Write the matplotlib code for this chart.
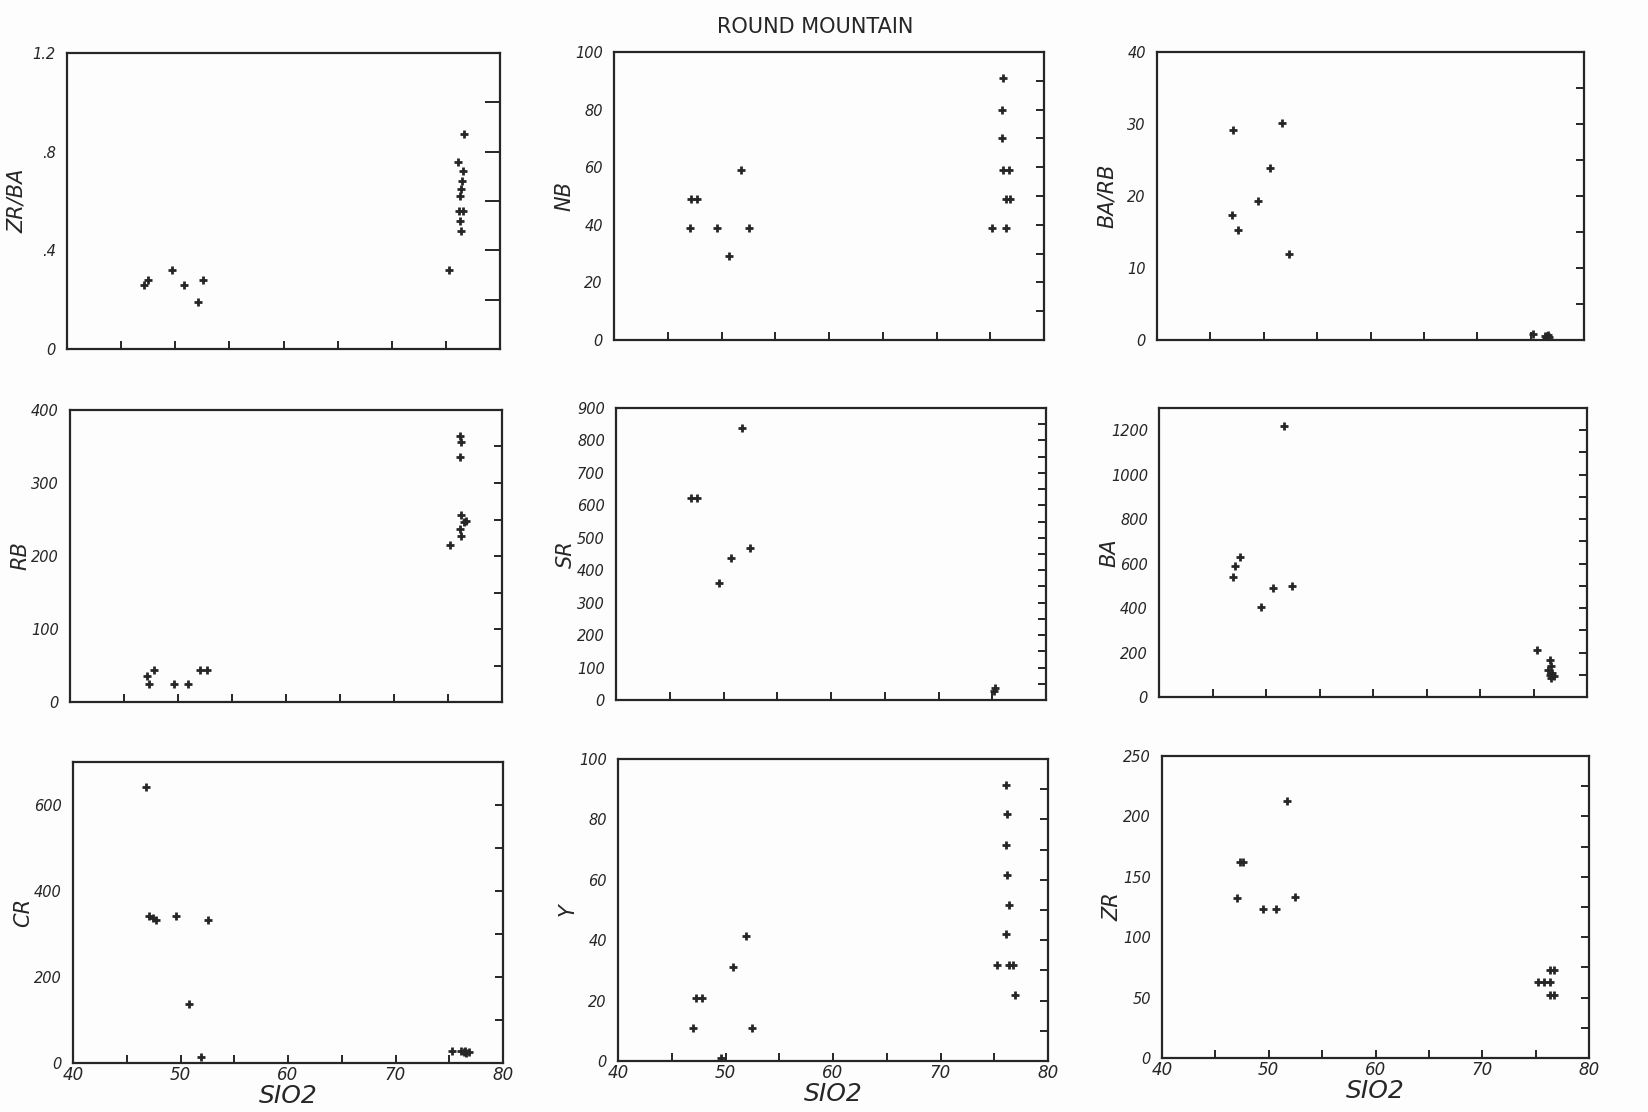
import matplotlib
matplotlib.use('Agg')
import matplotlib.pyplot as plt

# SIO2 vs. element values
zrba_x = [47.1, 47.5, 49.7, 50.8, 52.1, 52.6, 75.3, 76.7, 76.1, 76.6, 76.5, 76.4, 76.3, 76.2, 76.6, 76.3, 76.4]
zrba_y = [0.26, 0.28, 0.32, 0.26, 0.19, 0.28, 0.32, 0.87, 0.76, 0.72, 0.68, 0.65, 0.62, 0.56, 0.56, 0.52, 0.48]

nb_x = [47.1, 47.2, 47.7, 49.6, 50.7, 51.8, 52.6, 75.2, 76.5, 76.2, 76.1, 76.1, 76.2, 76.7, 76.5, 76.8]
nb_y = [39, 49, 49, 39, 29, 59, 39, 39, 39, 91, 80, 70, 59, 59, 49, 49]

barb_x = [47.1, 47.0, 47.6, 49.5, 50.6, 51.7, 52.4, 75.25, 76.3, 76.5, 76.7, 76.4, 76.6]
barb_y = [29.1, 17.4, 15.3, 19.3, 23.9, 30.1, 11.9, 0.8, 0.6, 0.5, 0.4, 0.3, 0.7]

rb_x = [47.1, 47.3, 47.8, 49.6, 50.9, 52.0, 52.7, 75.2, 76.1, 76.2, 76.1, 76.2, 76.5, 76.1, 76.2, 76.7]
rb_y = [35, 25, 44, 24, 24, 44, 44, 215, 365, 356, 336, 256, 247, 237, 228, 248]

sr_x = [47.0, 47.5, 49.6, 50.7, 51.75, 52.5, 75.3, 75.2]
sr_y = [624, 622, 360, 439, 838, 470, 36, 28]

ba_x = [46.9, 47.1, 47.6, 49.5, 50.7, 52.4, 51.7, 75.3, 76.5, 76.6, 76.4, 76.7, 76.5, 76.9, 76.6]
ba_y = [538, 589, 628, 406, 489, 499, 1218, 213, 165, 140, 120, 110, 100, 95, 85]

cr_x = [46.8, 47.1, 47.4, 47.7, 49.6, 50.8, 51.9, 52.6, 75.25, 76.1, 76.4, 76.6, 76.8, 76.5]
cr_y = [642, 342, 337, 333, 342, 138, 13, 333, 29, 27, 25, 23, 26, 28]

y_x = [47.0, 47.3, 47.8, 49.6, 50.7, 51.9, 52.5, 75.3, 76.1, 76.2, 76.1, 76.2, 76.4, 76.1, 76.4, 76.7, 76.9]
y_y = [10.8, 20.8, 20.8, 0.9, 31, 41.4, 11, 31.8, 91.5, 81.8, 71.6, 61.6, 51.7, 42, 31.8, 31.8, 21.7]

zr_x = [47.0, 47.3, 47.6, 49.5, 50.7, 51.75, 52.5, 75.2, 75.8, 76.3, 76.3, 76.7, 76.3, 76.7]
zr_y = [132.6, 161.9, 161.9, 123, 123, 212.7, 132.9, 63, 63, 63, 73, 73, 52, 52]

# panel layout in pixels: left, right, top, bottom
boxes = [(67, 500, 53, 349), (614, 1044, 52, 340), (1157, 1584, 52, 340),
         (70, 502, 410, 702), (616, 1046, 408, 700), (1159, 1587, 408, 697),
         (73, 503, 762, 1063), (618, 1048, 759, 1061), (1162, 1589, 756, 1058)]

panels = [
    ('ZR/BA', zrba_x, zrba_y, 1.2, [0, 0.4, 0.8, 1.2], ['0', '.4', '.8', '1.2'], 0.2),
    ('NB', nb_x, nb_y, 100, [0, 20, 40, 60, 80, 100], None, 10),
    ('BA/RB', barb_x, barb_y, 40, [0, 10, 20, 30, 40], None, 5),
    ('RB', rb_x, rb_y, 400, [0, 100, 200, 300, 400], None, 50),
    ('SR', sr_x, sr_y, 900, list(range(0, 901, 100)), None, 50),
    ('BA', ba_x, ba_y, 1300, [0, 200, 400, 600, 800, 1000, 1200], None, 100),
    ('CR', cr_x, cr_y, 700, [0, 200, 400, 600], None, 100),
    ('Y', y_x, y_y, 100, [0, 20, 40, 60, 80, 100], None, 10),
    ('ZR', zr_x, zr_y, 250, [0, 50, 100, 150, 200, 250], None, 25),
]

W, H = 1648, 1112
ink = '#262626'
fig = plt.figure(figsize=(W / 100, H / 100), dpi=100)
fig.patch.set_facecolor('#fdfdfd')

for i, (name, xs, ys, ymax, yt, ytl, minor) in enumerate(panels):
    l, r, t, b = boxes[i]
    ax = fig.add_axes([l / W, 1 - b / H, (r - l) / W, (b - t) / H])
    ax.set_facecolor('#fdfdfd')
    ax.plot(xs, ys, linestyle='none', marker='+', ms=5.5, mew=2, color=ink)
    ax.set_xlim(40, 80)
    ax.set_ylim(0, ymax)
    for s in ax.spines.values():
        s.set_linewidth(1.6)
        s.set_color(ink)
    ax.set_yticks(yt)
    if ytl:
        ax.set_yticklabels(ytl)
    mn = [k * minor for k in range(1, int(round(ymax / minor)) + 1)]
    ax.set_yticks([v for v in mn if v < ymax * 0.999], minor=True)
    ax.tick_params(axis='y', which='both', left=False, right=True, direction='in',
                   length=11 if i == 0 else 6, width=1.4, color=ink,
                   labelsize=10.5, labelcolor=ink, pad=8)
    ax.set_xticks([40, 45, 50, 55, 60, 65, 70, 75, 80])
    ax.tick_params(axis='x', direction='in', length=6, width=1.4, color=ink,
                   labelsize=12, labelcolor=ink, pad=2)
    if i >= 6:
        ax.set_xticklabels(['40', '', '50', '', '60', '', '70', '', '80'])
        ax.set_xlabel('SIO2', fontsize=18, color=ink, style='italic', labelpad=0)
    else:
        ax.set_xticklabels([])
    for lab in ax.get_xticklabels() + ax.get_yticklabels():
        lab.set_fontstyle('italic')
    ax.set_ylabel(name, fontsize=15, color=ink, style='italic')
    ax.yaxis.set_label_coords(-40 / (r - l), 0.5)

fig.text(0.4945, 0.976, 'ROUND MOUNTAIN', ha='center', va='center',
         fontsize=15, color=ink)

fig.savefig('out.png', dpi=100, facecolor=fig.get_facecolor())
